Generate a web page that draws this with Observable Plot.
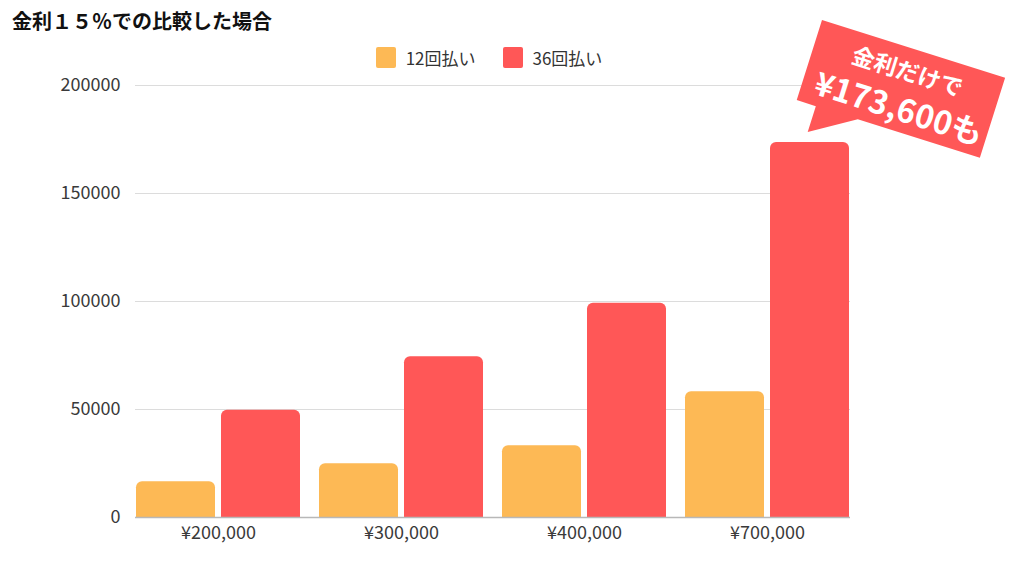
<!DOCTYPE html>
<html>
<head>
<meta charset="utf-8">
<script src="https://cdn.jsdelivr.net/npm/d3@7"></script>
<script src="https://cdn.jsdelivr.net/npm/@observablehq/plot@0.6"></script>
<style>
  body { margin: 0; background: #fff; font-family: "Noto Sans CJK JP", "Noto Sans", sans-serif; }
  #wrap { position: relative; width: 1024px; height: 576px; overflow: hidden; }
  #title { position: absolute; left: 12px; top: 6px; font-size: 20px; font-weight: bold; color: #111; white-space: nowrap; }
  #legend { position: absolute; left: 0; top: 45px; width: 978px; display: flex; justify-content: center; gap: 27px; font-size: 17px; color: #333; }
  .item { display: flex; align-items: center; gap: 10px; }
  .sw { width: 20px; height: 21px; border-radius: 2px; }
  #chart { position: absolute; left: 0; top: 65px; }
  #callout { position: absolute; left: 0; top: 0; }
</style>
</head>
<body>
<div id="wrap">
  <div id="title">金利１５％での比較した場合</div>
  <div id="legend"></div>
  <div id="chart"></div>
  <svg id="callout" width="1024" height="200"></svg>
</div>
<script>
const groups = ["¥200,000", "¥300,000", "¥400,000", "¥700,000"];
const series = ["12回払い", "36回払い"];
const pay12 = [16600, 24900, 33200, 58200];
const pay36 = [49600, 74400, 99200, 173600];
const yTicks = [0, 50000, 100000, 150000, 200000];
const colors = ["#FDB955", "#FF5757"];
const calloutLines = ["金利だけで", "¥173,600も"];

const rows12 = groups.map((g, i) => ({group: g, value: pay12[i]}));
const rows36 = groups.map((g, i) => ({group: g, value: pay36[i]}));

// legend
const legend = document.getElementById("legend");
series.forEach((s, i) => {
  const it = document.createElement("div");
  it.className = "item";
  it.innerHTML = `<span class="sw" style="background:${colors[i]}"></span><span>${s}</span>`;
  legend.appendChild(it);
});

const chart = Plot.plot({
  width: 1024,
  height: 492,
  marginLeft: 135,
  marginRight: 174,
  marginTop: 20,
  marginBottom: 40,
  style: {fontSize: "18px", fontFamily: "'Noto Sans CJK JP', 'Noto Sans', sans-serif", color: "#3a3a3a", background: "transparent"},
  x: {domain: groups, paddingInner: 0.104, paddingOuter: 0, label: null, tickSize: 0, tickPadding: 9},
  y: {domain: [0, 200000], ticks: yTicks, tickFormat: d => String(d), label: null, tickSize: 0, tickPadding: 15},
  marks: [
    Plot.ruleY(yTicks.slice(1), {stroke: "#dcdcdc", strokeWidth: 1}),
    Plot.barY(rows12, {x: "group", y: "value", fill: colors[0], insetRight: 85, rx: 6, insetBottom: -10, clip: true}),
    Plot.barY(rows36, {x: "group", y: "value", fill: colors[1], insetLeft: 85, rx: 6, insetBottom: -10, clip: true}),
    Plot.ruleY([0], {stroke: "#b8b8b8", strokeWidth: 1.5})
  ]
});
document.getElementById("chart").appendChild(chart);

// callout annotation
const svg = d3.select("#callout");
const g = svg.append("g").attr("transform", "translate(822,20) rotate(17.5)");
g.append("path")
  .attr("d", "M0,0 H192 V84 H64 L20,111 L20,84 H0 Z")
  .attr("fill", "#FF5757");
g.append("text").attr("x", 97).attr("y", 32).attr("text-anchor", "middle")
  .attr("fill", "#fff").attr("font-size", 23).attr("font-weight", "bold")
  .attr("font-family", "'Noto Sans CJK JP', sans-serif").text(calloutLines[0]);
g.append("text").attr("x", 100).attr("y", 73).attr("text-anchor", "middle")
  .attr("fill", "#fff").attr("font-size", 32).attr("font-weight", "bold")
  .attr("font-family", "'Noto Sans CJK JP', sans-serif").text(calloutLines[1]);
</script>
</body>
</html>
